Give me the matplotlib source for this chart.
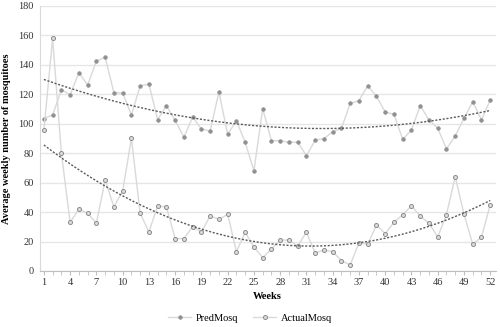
import matplotlib
matplotlib.use("Agg")
import matplotlib.pyplot as plt
import numpy as np

weeks = np.arange(1, 53)

pred_mosq = [103.5, 106, 123, 119.8, 134.7, 126.3, 142.6, 145.1, 121.1, 120.9,
             106, 125.7, 127, 102.8, 112.3, 102.3, 90.8, 104.7, 96.4, 95.1,
             121.6, 92.8, 102.1, 87.4, 68.1, 110.3, 88.5, 88.5, 87.4, 87.4,
             78.3, 88.8, 89.9, 94.6, 96.9, 113.9, 115.7, 125.9, 118.6, 108,
             106.4, 89.4, 95.8, 112.3, 102.6, 96.9, 82.9, 91.7, 103.7, 115,
             102.6, 116.2]

actual_mosq = [95.6, 158, 80, 33, 42.1, 39.2, 32.4, 61.8, 43.5, 54.3,
               90.1, 39.2, 26.5, 44.2, 43.5, 22, 22, 30.2, 26.5, 37.4,
               35.1, 38.5, 13.1, 26.3, 16.1, 9.1, 14.9, 21, 21, 17,
               26.3, 12.2, 14.3, 13.1, 7, 4.1, 19.2, 18.1, 31.2, 25.4,
               33, 38.3, 44.2, 37.4, 32.4, 23.1, 38.3, 64.1, 38.5, 18.1,
               23.1, 45]

xtick_labels = [str(w) for w in range(1, 53, 3)]

plt.rcParams['font.family'] = ['Liberation Serif', 'DejaVu Serif']

fig = plt.figure(figsize=(5, 3.27), dpi=100)
ax = fig.add_axes([0.079, 0.1713, 0.912, 0.8104])

line_col = "#d9d9d9"
ax.plot(weeks, pred_mosq, color=line_col, lw=1.0, marker='o', ms=2.6,
        mfc="#909090", mec="#909090", mew=0.5, label="PredMosq", zorder=3)
ax.plot(weeks, actual_mosq, color=line_col, lw=1.0, marker='o', ms=2.9,
        mfc="#dcdcdc", mec="#8c8c8c", mew=0.7, label="ActualMosq", zorder=3)

# poly trendlines (order 2)
xs = np.linspace(1, 52, 200)
for ser in (pred_mosq, actual_mosq):
    c = np.polyfit(weeks, ser, 2)
    ax.plot(xs, np.polyval(c, xs), color="#5a5a5a", lw=1.0,
            ls=(0, (1.5, 1.2)), zorder=4)

ax.set_xlim(0.5, 52.6)
ax.set_ylim(0, 180)
ax.set_yticks(np.arange(0, 181, 20))
ax.set_xticks(weeks, minor=True)
ax.set_xticks(range(1, 53, 3))
ax.set_xticklabels(xtick_labels)
ax.grid(axis='y', color="#e6e6e6", lw=1.0)
ax.set_axisbelow(True)

for s in ("top", "right"):
    ax.spines[s].set_visible(False)
ax.spines["left"].set_color("#d9d9d9")
ax.spines["bottom"].set_color("#bfbfbf")
ax.tick_params(axis='y', length=0, labelsize=7.5, colors="#333333", pad=4)
ax.tick_params(axis='x', which='both', length=3, color="#bfbfbf",
               labelsize=7.5, labelcolor="#333333", pad=2)

ax.set_xlabel("Weeks", fontsize=7.5, fontweight='bold', labelpad=4)
ax.set_ylabel("Average weekly number of mosquitoes", fontsize=7.5,
              fontweight='bold', labelpad=5)

fig.legend(loc='lower center', bbox_to_anchor=(0.5, -0.015), ncol=2,
           frameon=False, fontsize=7.5, handlelength=2.2, columnspacing=1.5,
           handletextpad=0.4)

fig.savefig("out.png", dpi=100)
